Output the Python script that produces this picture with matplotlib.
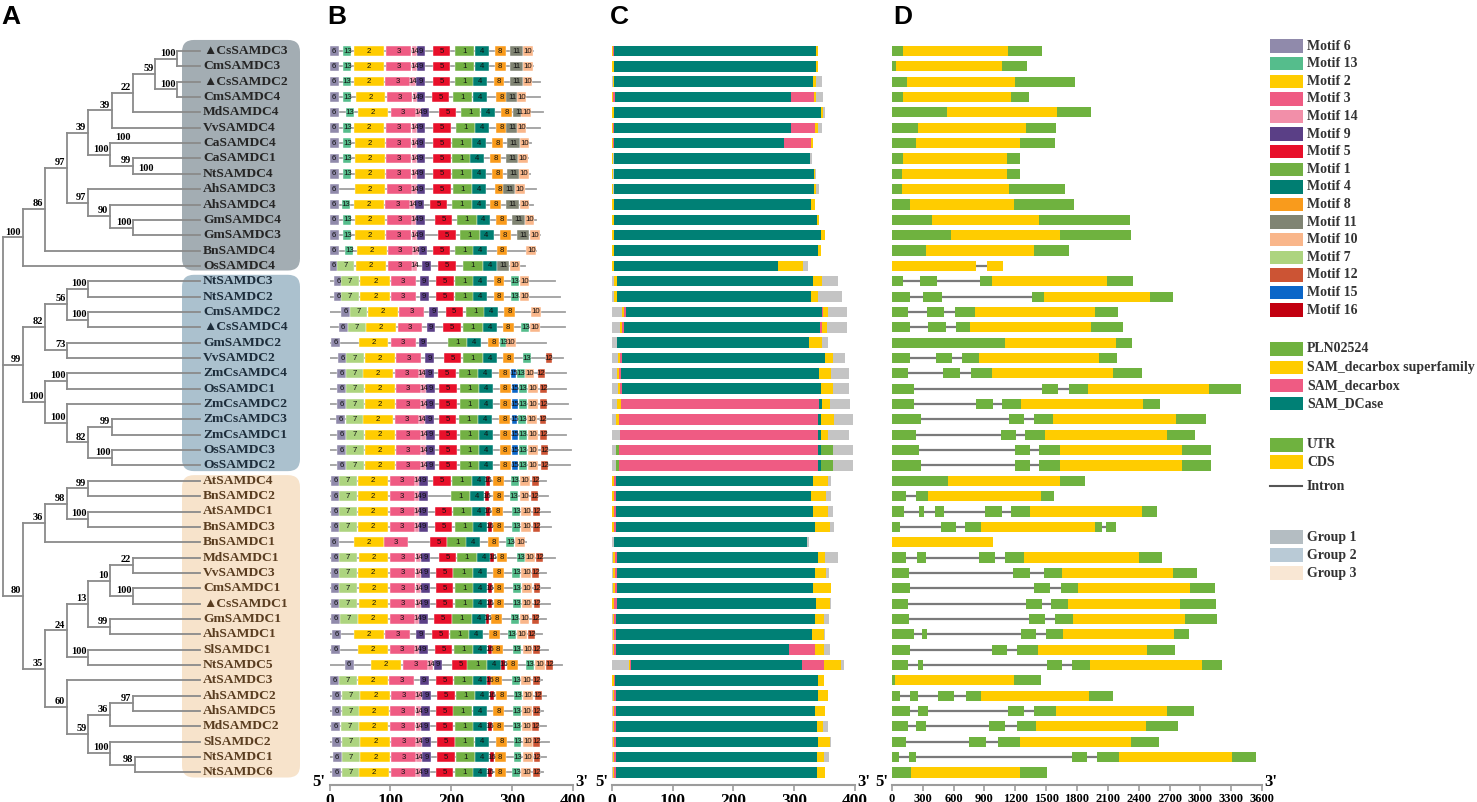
import matplotlib
matplotlib.use('Agg')
import matplotlib.pyplot as plt
from matplotlib.patches import FancyBboxPatch, Rectangle
from matplotlib.transforms import Bbox, TransformedBbox

W, H = 1477, 802
SERIF = ['Liberation Serif', 'DejaVu Serif']
SANS = ['Liberation Sans', 'DejaVu Sans']

# ---------------- tree (support, node x, children) ----------------
group1 = (100, 22.7, [
    (86, 45, [
        (97, 67, [
            (39, 88, [
                (39, 112, [
                    (22, 133, [
                        (59, 155, [
                            (100, 177, ['▲CsSAMDC3', 'CmSAMDC3']),
                            (100, 177, ['▲CsSAMDC2', 'CmSAMDC4'])]),
                        'MdSAMDC4']),
                    'VvSAMDC4']),
                (100, 110, ['CaSAMDC4', (99, 133, ['CaSAMDC1', 'NtSAMDC4'])])]),
            (97, 88, ['AhSAMDC3', (90, 110, ['AhSAMDC4', (100, 133, ['GmSAMDC4', 'GmSAMDC3'])])])]),
        'BnSAMDC4']),
    'OsSAMDC4'])

group2 = (99, 22.7, [
    (82, 45, [
        (56, 67, [(100, 88, ['NtSAMDC3', 'NtSAMDC2']),
                  (100, 88, ['CmSAMDC2', '▲CsSAMDC4'])]),
        (73, 67, ['GmSAMDC2', 'VvSAMDC2'])]),
    (100, 45, [
        (100, 67, ['ZmCsAMDC4', 'OsSAMDC1']),
        (100, 67, ['ZmCsAMDC2',
                   (82, 88, [(99, 112, ['ZmCsAMDC3', 'ZmCsAMDC1']),
                             (100, 112, ['OsSAMDC3', 'OsSAMDC2'])])])])])

group3 = (80, 22.7, [
    (36, 45, [
        (98, 67, [(99, 88, ['AtSAMDC4', 'BnSAMDC2']),
                  (100, 88, ['AtSAMDC1', 'BnSAMDC3'])]),
        'BnSAMDC1']),
    (35, 45, [
        (24, 67, [
            (13, 88, [
                (10, 110, [(22, 133, ['MdSAMDC1', 'VvSAMDC3']),
                           (100, 133, ['CmSAMDC1', '▲CsSAMDC1'])]),
                (99, 110, ['GmSAMDC1', 'AhSAMDC1'])]),
            (100, 88, ['SlSAMDC1', 'NtSAMDC5'])]),
        (60, 67, [
            'AtSAMDC3',
            (59, 88, [
                (36, 110, [(97, 133, ['AhSAMDC2', 'AhSAMDC5']), 'MdSAMDC2']),
                (100, 110, ['SlSAMDC2', (98, 135, ['NtSAMDC1', 'NtSAMDC6'])])])])])])

tree_root = (None, 3, [group1, group2, group3])
leaf_support = {'CaSAMDC4': 100, 'NtSAMDC4': 100}   # values sitting on leaf branches

# ---------------- B: MEME motifs (motif, start) per gene, protein length ----------------
motif_width = {6: 15, 13: 13, 2: 49, 3: 41, 14: 9, 9: 14, 5: 29, 1: 32, 4: 23,
               8: 18, 11: 21, 10: 16, 7: 29, 12: 11, 15: 9, 16: 6}
motif_rows = [
    [(6, 0), (13, 23), (2, 41), (3, 93), (14, 135), (9, 144), (5, 170), (1, 206), (4, 239), (8, 272), (11, 297), (10, 319)],
    [(6, 0), (13, 23), (2, 41), (3, 93), (14, 135), (9, 144), (5, 170), (1, 206), (4, 239), (8, 272), (11, 297), (10, 319)],
    [(6, 0), (13, 22), (2, 40), (3, 92), (14, 133), (9, 143), (5, 170), (1, 206), (4, 237), (8, 270), (11, 297), (10, 318)],
    [(6, 0), (13, 23), (2, 43), (3, 95), (14, 137), (9, 144), (5, 168), (1, 203), (4, 236), (8, 274), (11, 291), (10, 308)],
    [(6, 0), (13, 27), (2, 47), (3, 101), (14, 142), (9, 150), (5, 180), (1, 216), (4, 249), (8, 283), (11, 302), (10, 316)],
    [(6, 0), (13, 23), (2, 41), (3, 93), (14, 135), (9, 144), (5, 171), (1, 208), (4, 239), (8, 274), (11, 291), (10, 308)],
    [(6, 0), (13, 23), (2, 42), (3, 93), (14, 135), (9, 144), (5, 171), (1, 202), (4, 234), (8, 268), (11, 292), (10, 313)],
    [(6, 0), (13, 23), (2, 42), (3, 93), (14, 135), (9, 144), (5, 171), (1, 202), (4, 232), (8, 264), (11, 290), (10, 310)],
    [(6, 0), (13, 23), (2, 42), (3, 93), (14, 135), (9, 144), (5, 171), (1, 202), (4, 234), (8, 268), (11, 292), (10, 312)],
    [(6, 0), (2, 42), (3, 95), (14, 136), (9, 144), (5, 171), (1, 203), (4, 235), (8, 272), (11, 285), (10, 305)],
    [(6, 0), (13, 20), (2, 40), (3, 92), (14, 132), (9, 141), (5, 165), (1, 202), (4, 234), (8, 265), (11, 291), (10, 313)],
    [(6, 0), (13, 23), (2, 42), (3, 95), (14, 135), (9, 143), (5, 173), (1, 210), (4, 242), (8, 274), (11, 301), (10, 321)],
    [(6, 0), (13, 23), (2, 42), (3, 93), (14, 135), (9, 144), (5, 179), (1, 215), (4, 247), (8, 280), (11, 308), (10, 330)],
    [(6, 0), (13, 26), (2, 45), (3, 96), (14, 138), (9, 147), (5, 170), (1, 206), (4, 237), (8, 275), (10, 324)],
    [(6, 0), (7, 12), (2, 44), (3, 96), (14, 135), (9, 153), (5, 179), (1, 220), (4, 253), (11, 275), (10, 297)],
    [(6, 8), (7, 19), (2, 51), (3, 101), (9, 149), (5, 176), (1, 206), (4, 236), (8, 270), (13, 299), (10, 313)],
    [(6, 8), (7, 19), (2, 51), (3, 101), (9, 149), (5, 176), (1, 206), (4, 236), (8, 270), (13, 299), (10, 313)],
    [(6, 19), (7, 33), (2, 63), (3, 115), (9, 164), (5, 191), (1, 224), (4, 255), (8, 288), (10, 332)],
    [(6, 15), (7, 31), (2, 60), (3, 112), (9, 160), (5, 187), (1, 220), (4, 252), (8, 285), (13, 316), (10, 330)],
    [(6, 3), (2, 48), (3, 101), (9, 147), (1, 195), (4, 227), (8, 261), (13, 280), (10, 291)],
    [(6, 14), (7, 27), (2, 59), (3, 110), (9, 158), (5, 188), (1, 220), (4, 253), (8, 286), (13, 318), (12, 356)],
    [(6, 12), (7, 27), (2, 55), (3, 107), (14, 148), (9, 158), (5, 179), (1, 213), (4, 245), (8, 279), (15, 298), (13, 308), (10, 321), (12, 343)],
    [(6, 12), (7, 27), (2, 58), (3, 109), (14, 151), (9, 159), (5, 181), (1, 214), (4, 246), (8, 280), (15, 301), (13, 312), (10, 327), (12, 347)],
    [(6, 12), (7, 27), (2, 58), (3, 109), (14, 151), (9, 159), (5, 181), (1, 214), (4, 246), (8, 280), (15, 301), (13, 312), (10, 327), (12, 347)],
    [(6, 11), (7, 27), (2, 55), (3, 107), (14, 148), (9, 158), (5, 180), (1, 213), (4, 245), (8, 279), (15, 300), (13, 311), (10, 325), (12, 346)],
    [(6, 12), (7, 27), (2, 58), (3, 109), (14, 151), (9, 159), (5, 181), (1, 214), (4, 246), (8, 280), (15, 301), (13, 312), (10, 327), (12, 347)],
    [(6, 12), (7, 27), (2, 58), (3, 109), (14, 151), (9, 159), (5, 181), (1, 214), (4, 246), (8, 280), (15, 301), (13, 312), (10, 327), (12, 348)],
    [(6, 12), (7, 27), (2, 58), (3, 109), (14, 151), (9, 159), (5, 181), (1, 214), (4, 246), (8, 280), (15, 301), (13, 312), (10, 327), (12, 348)],
    [(6, 2), (7, 16), (2, 47), (3, 99), (14, 140), (9, 148), (5, 171), (1, 202), (4, 235), (16, 258), (8, 269), (13, 299), (10, 314), (12, 334)],
    [(6, 2), (7, 16), (2, 47), (3, 99), (14, 140), (9, 148), (1, 200), (4, 232), (16, 256), (8, 269), (13, 297), (10, 313), (12, 332)],
    [(6, 2), (7, 16), (2, 47), (3, 99), (14, 140), (9, 148), (5, 173), (1, 203), (4, 235), (16, 258), (8, 268), (13, 301), (10, 316), (12, 335)],
    [(6, 2), (7, 16), (2, 47), (3, 99), (14, 140), (9, 148), (5, 173), (1, 206), (4, 236), (16, 261), (8, 269), (13, 301), (10, 316), (12, 335)],
    [(6, 0), (2, 40), (3, 89), (5, 165), (1, 194), (4, 225), (8, 261), (13, 291), (10, 306)],
    [(6, 2), (7, 16), (2, 48), (3, 100), (14, 142), (9, 151), (5, 180), (1, 210), (4, 243), (16, 265), (8, 275), (13, 308), (10, 322), (12, 340)],
    [(6, 2), (7, 16), (2, 47), (3, 100), (14, 142), (9, 151), (5, 175), (1, 204), (4, 237), (8, 269), (13, 301), (10, 316), (12, 334)],
    [(6, 2), (7, 16), (2, 48), (3, 100), (14, 142), (9, 151), (5, 175), (1, 206), (4, 237), (16, 261), (8, 270), (13, 302), (10, 317), (12, 336)],
    [(6, 2), (7, 16), (2, 48), (3, 100), (14, 142), (9, 151), (5, 175), (1, 206), (4, 237), (16, 261), (8, 270), (13, 302), (10, 317), (12, 336)],
    [(6, 2), (7, 18), (2, 47), (3, 99), (14, 140), (9, 148), (5, 172), (1, 202), (4, 235), (16, 257), (8, 266), (13, 299), (10, 313), (12, 334)],
    [(6, 4), (2, 41), (3, 92), (9, 143), (5, 168), (1, 198), (4, 230), (8, 263), (13, 294), (10, 309), (12, 327)],
    [(6, 3), (2, 47), (3, 99), (14, 140), (9, 148), (5, 173), (1, 205), (4, 236), (16, 261), (8, 268), (13, 302), (10, 318), (12, 335)],
    [(6, 25), (2, 69), (3, 121), (14, 162), (9, 172), (5, 202), (1, 227), (4, 259), (16, 283), (8, 293), (13, 323), (10, 338), (12, 357)],
    [(6, 1), (7, 16), (2, 47), (3, 98), (9, 149), (5, 175), (1, 205), (4, 237), (16, 260), (8, 266), (13, 301), (10, 316), (12, 335)],
    [(6, 4), (7, 21), (2, 51), (3, 102), (14, 143), (9, 153), (5, 177), (1, 208), (4, 239), (16, 264), (8, 274), (13, 304), (10, 319), (12, 338)],
    [(6, 4), (7, 21), (2, 49), (3, 100), (14, 142), (9, 151), (5, 176), (1, 203), (4, 236), (8, 269), (13, 302), (10, 317), (12, 335)],
    [(6, 3), (7, 19), (2, 48), (3, 100), (14, 142), (9, 151), (5, 175), (1, 206), (4, 237), (16, 261), (8, 269), (13, 302), (10, 317), (12, 334)],
    [(6, 4), (7, 21), (2, 51), (3, 102), (14, 143), (9, 153), (5, 177), (1, 206), (4, 239), (8, 274), (13, 303), (10, 319), (12, 335)],
    [(6, 5), (7, 21), (2, 51), (3, 102), (14, 143), (9, 153), (5, 177), (1, 208), (4, 239), (16, 264), (8, 272), (13, 303), (10, 319), (12, 336)],
    [(6, 4), (7, 21), (2, 49), (3, 101), (14, 142), (9, 151), (5, 175), (1, 206), (4, 237), (16, 261), (8, 272), (13, 301), (10, 316), (12, 335)],
]
prot_len = [335, 335, 346, 346, 352, 346, 332, 327, 330, 340, 335, 340, 346, 340, 321,
            371, 379, 387, 387, 357, 385, 390, 390, 393, 398, 390, 397, 396,
            357, 360, 363, 365, 323, 371, 357, 363, 363, 357, 349, 360, 382, 349,
            357, 351, 356, 362, 357, 352]

# ---------------- C: conserved domains (domain, start, end) ----------------
# D = SAM_DCase, B = SAM_decarbox, S = SAM_decarbox superfamily, P = PLN02524
domain_len = [339, 339, 346, 348, 352, 347, 332, 330, 336, 342, 335, 341, 351, 345, 323,
              372, 380, 387, 387, 356, 385, 391, 391, 393, 398, 391, 397, 397,
              361, 361, 364, 366, 325, 372, 358, 361, 362, 358, 352, 360, 382, 350,
              356, 352, 356, 362, 358, 352]
domain_rows = [
    [('S', 0, 2), ('B', 2, 4), ('D', 4, 337), ('S', 337, 339)],
    [('S', 0, 3), ('D', 4, 337), ('S', 337, 339)],
    [('S', 1, 4), ('D', 4, 332), ('S', 332, 337)],
    [('S', 0, 2), ('B', 2, 5), ('D', 5, 295), ('B', 295, 333), ('S', 333, 337)],
    [('S', 0, 3), ('D', 3, 345), ('S', 345, 348)],
    [('S', 0, 2), ('B', 2, 4), ('D', 4, 296), ('B', 296, 335), ('S', 335, 339)],
    [('S', 0, 2), ('B', 2, 4), ('D', 4, 283), ('B', 283, 328), ('S', 328, 331)],
    [('S', 0, 2), ('D', 3, 327)],
    [('S', 0, 2), ('D', 3, 333), ('S', 333, 335)],
    [('S', 0, 2), ('D', 3, 333), ('S', 333, 337)],
    [('S', 0, 3), ('D', 4, 328), ('S', 328, 335)],
    [('S', 0, 3), ('D', 4, 338), ('S', 338, 341)],
    [('S', 0, 3), ('D', 4, 344), ('S', 344, 351)],
    [('S', 0, 3), ('D', 4, 340), ('S', 340, 345)],
    [('S', 0, 3), ('D', 4, 274), ('S', 274, 315)],
    [('S', 3, 9), ('D', 9, 332), ('S', 332, 346)],
    [('S', 3, 9), ('D', 9, 328), ('S', 328, 340)],
    [('S', 16, 20), ('B', 20, 23), ('D', 23, 346), ('B', 346, 348), ('S', 348, 356)],
    [('S', 13, 16), ('B', 16, 20), ('D', 20, 343), ('B', 343, 346), ('S', 346, 355)],
    [('D', 8, 325), ('S', 325, 346)],
    [('S', 10, 14), ('B', 14, 17), ('D', 17, 352), ('S', 352, 365)],
    [('S', 8, 12), ('B', 12, 15), ('D', 15, 342), ('S', 342, 362)],
    [('S', 10, 13), ('B', 13, 16), ('D', 16, 344), ('S', 344, 365)],
    [('S', 9, 15), ('B', 15, 342), ('D', 342, 346), ('S', 346, 359)],
    [('S', 7, 12), ('B', 12, 339), ('D', 339, 344), ('S', 344, 366)],
    [('B', 13, 339), ('D', 339, 344), ('S', 344, 356)],
    [('P', 7, 12), ('B', 12, 339), ('D', 339, 344), ('P', 344, 365)],
    [('P', 7, 12), ('B', 12, 339), ('D', 339, 344), ('P', 344, 365)],
    [('S', 0, 3), ('B', 3, 6), ('D', 6, 331), ('S', 331, 356)],
    [('S', 0, 3), ('B', 3, 6), ('D', 6, 329), ('S', 329, 353)],
    [('S', 0, 3), ('B', 3, 6), ('D', 6, 332), ('S', 332, 357)],
    [('S', 0, 3), ('B', 3, 6), ('D', 6, 335), ('S', 335, 360)],
    [('D', 4, 321)],
    [('S', 2, 5), ('B', 5, 9), ('D', 9, 340), ('S', 340, 352)],
    [('S', 1, 5), ('B', 5, 8), ('D', 8, 335), ('S', 335, 353)],
    [('S', 1, 5), ('B', 5, 8), ('D', 8, 331), ('S', 331, 361)],
    [('S', 0, 3), ('B', 3, 8), ('D', 8, 337), ('S', 337, 360)],
    [('S', 1, 4), ('B', 4, 7), ('D', 7, 335), ('S', 335, 350)],
    [('S', 1, 4), ('B', 4, 7), ('D', 7, 330), ('S', 330, 350)],
    [('S', 1, 4), ('B', 4, 7), ('D', 7, 292), ('B', 292, 335), ('S', 335, 350)],
    [('S', 28, 30), ('B', 30, 32), ('D', 32, 313), ('B', 313, 350), ('S', 350, 378)],
    [('S', 0, 3), ('B', 3, 5), ('D', 5, 340), ('S', 340, 350)],
    [('S', 1, 4), ('B', 4, 7), ('D', 7, 340), ('S', 340, 356)],
    [('S', 1, 4), ('B', 4, 7), ('D', 7, 335), ('S', 335, 352)],
    [('S', 1, 4), ('B', 4, 7), ('D', 7, 338), ('S', 338, 348)],
    [('S', 1, 4), ('B', 4, 7), ('D', 7, 340), ('S', 340, 360)],
    [('S', 1, 4), ('B', 4, 7), ('D', 7, 338), ('S', 338, 350)],
    [('S', 1, 4), ('B', 4, 7), ('D', 7, 338), ('S', 338, 352)],
]

# ---------------- D: gene structure (U = UTR, C = CDS, start, end) ----------------
gene_rows = [
    [('U', 0, 104), ('C', 104, 1131), ('U', 1131, 1464)],
    [('U', 0, 39), ('C', 39, 1066), ('U', 1066, 1315)],
    [('U', 0, 149), ('C', 149, 1196), ('U', 1196, 1779)],
    [('U', 0, 104), ('C', 104, 1157), ('U', 1157, 1335)],
    [('U', 0, 538), ('C', 538, 1610), ('U', 1610, 1934)],
    [('U', 0, 256), ('C', 256, 1302), ('U', 1302, 1594)],
    [('U', 0, 233), ('C', 233, 1244), ('U', 1244, 1588)],
    [('U', 0, 104), ('C', 104, 1115), ('U', 1115, 1244)],
    [('U', 0, 100), ('C', 100, 1115), ('U', 1115, 1244)],
    [('U', 0, 100), ('C', 100, 1137), ('U', 1137, 1688)],
    [('U', 0, 175), ('C', 175, 1189), ('U', 1189, 1766)],
    [('U', 0, 386), ('C', 386, 1429), ('U', 1429, 2313)],
    [('U', 0, 573), ('C', 573, 1633), ('U', 1633, 2323)],
    [('U', 0, 334), ('C', 334, 1377), ('U', 1377, 1720)],
    [('C', 0, 820), ('C', 923, 1079)],
    [('U', 0, 104), ('U', 275, 437), ('U', 859, 975), ('C', 975, 2096), ('U', 2096, 2343)],
    [('U', 0, 172), ('U', 301, 486), ('U', 1364, 1481), ('C', 1481, 2511), ('U', 2511, 2731)],
    [('U', 0, 156), ('U', 340, 509), ('U', 609, 810), ('C', 810, 1976), ('U', 1976, 2197)],
    [('U', 0, 178), ('U', 347, 528), ('U', 625, 761), ('C', 761, 1934), ('U', 1934, 2245)],
    [('U', 0, 1102), ('C', 1102, 2181), ('U', 2181, 2333)],
    [('U', 0, 172), ('U', 431, 583), ('U', 680, 842), ('C', 842, 2012), ('U', 2012, 2190)],
    [('U', 0, 152), ('U', 496, 664), ('U', 771, 975), ('C', 975, 2155), ('U', 2155, 2433)],
    [('U', 0, 211), ('U', 1458, 1617), ('U', 1720, 1905), ('C', 1905, 3088), ('U', 3088, 3399)],
    [('U', 0, 217), ('U', 820, 978), ('U', 1069, 1251), ('C', 1251, 2440), ('U', 2440, 2611)],
    [('U', 0, 285), ('U', 1134, 1283), ('U', 1377, 1565), ('C', 1565, 2764), ('U', 2764, 3055)],
    [('U', 0, 233), ('U', 1056, 1202), ('U', 1296, 1490), ('C', 1490, 2674), ('U', 2674, 2945)],
    [('U', 0, 259), ('U', 1199, 1345), ('U', 1429, 1630), ('C', 1630, 2825), ('U', 2825, 3107)],
    [('U', 0, 285), ('U', 1199, 1345), ('U', 1429, 1630), ('C', 1630, 2825), ('U', 2825, 3107)],
    [('U', 0, 548), ('C', 548, 1636), ('U', 1636, 1879)],
    [('U', 0, 139), ('U', 237, 353), ('C', 353, 1445), ('U', 1445, 1581)],
    [('U', 0, 117), ('U', 259, 314), ('U', 415, 509), ('U', 907, 1069), ('U', 1160, 1338), ('C', 1338, 2436), ('U', 2436, 2579)],
    [('U', 0, 75), ('U', 473, 625), ('U', 706, 865), ('C', 865, 1973), ('U', 1973, 2048), ('U', 2080, 2177)],
    [('C', 0, 982)],
    [('U', 0, 133), ('U', 243, 327), ('U', 846, 1004), ('U', 1095, 1286), ('C', 1286, 2407), ('U', 2407, 2628)],
    [('U', 0, 162), ('U', 1179, 1345), ('U', 1481, 1652), ('C', 1652, 2731), ('U', 2731, 2971)],
    [('U', 0, 172), ('U', 1384, 1542), ('U', 1646, 1805), ('C', 1805, 2900), ('U', 2900, 3143)],
    [('U', 0, 152), ('U', 1299, 1458), ('U', 1545, 1711), ('C', 1711, 2803), ('U', 2803, 3153)],
    [('U', 0, 165), ('U', 1330, 1490), ('U', 1590, 1760), ('C', 1760, 2850), ('U', 2850, 3160)],
    [('U', 0, 211), ('U', 295, 343), ('U', 1251, 1400), ('U', 1497, 1665), ('C', 1665, 2744), ('U', 2744, 2887)],
    [('U', 0, 172), ('U', 969, 1118), ('U', 1218, 1422), ('C', 1422, 2482), ('U', 2482, 2757)],
    [('U', 0, 152), ('U', 249, 305), ('U', 1507, 1656), ('U', 1756, 1928), ('C', 1928, 3020), ('U', 3020, 3211)],
    [('U', 0, 32), ('C', 32, 1183), ('U', 1183, 1452)],
    [('U', 0, 81), ('U', 178, 249), ('U', 447, 603), ('U', 716, 865), ('C', 865, 1912), ('U', 1912, 2151)],
    [('U', 0, 172), ('U', 256, 353), ('U', 1124, 1283), ('U', 1380, 1591), ('C', 1591, 2674), ('U', 2674, 2939)],
    [('U', 0, 152), ('U', 230, 327), ('U', 946, 1098), ('U', 1218, 1403), ('C', 1403, 2472), ('U', 2472, 2783)],
    [('U', 0, 136), ('U', 752, 914), ('U', 1034, 1244), ('C', 1244, 2326), ('U', 2326, 2598)],
    [('U', 0, 71), ('U', 162, 237), ('U', 1750, 1902), ('U', 1999, 2213), ('C', 2213, 3311), ('U', 3311, 3538)],
    [('U', 0, 185), ('C', 185, 1247), ('U', 1247, 1507)],
]

# ---------------- colours ----------------
motif_color = {6: '#908aab', 13: '#55bd8c', 2: '#ffcc00', 3: '#ef5b83', 14: '#f28fa9',
               9: '#5a3f86', 5: '#e8102a', 1: '#72b043', 4: '#007e72', 8: '#f99b1c',
               11: '#808473', 10: '#f9b68a', 7: '#add47f', 12: '#cc5434', 15: '#0b66c8',
               16: '#c20010'}
domain_color = {'P': '#70b23f', 'S': '#ffcc00', 'B': '#ef5b83', 'D': '#008075'}
gene_color = {'U': '#6fb23f', 'C': '#ffcc00'}
box_color = ['#a3adb3', '#abc1ce', '#f7e3cb']
legend_group_color = ['#b4bdc2', '#b9cad6', '#f9e7d4']
leaf_text_color = ['#262626', '#1d2d3b', '#5a3d20']
LINE = '#8a8a8a'

# ---------------- layout ----------------
ROW0, ROW_DY = 51, 15.35
AX_TOP, AX_BOTTOM = 30, 785
YLIM = ((AX_BOTTOM - ROW0) / ROW_DY, (AX_TOP - ROW0) / ROW_DY)

fig = plt.figure(figsize=(W / 100, H / 100), dpi=100)


def px_axes(x0, x1, y0=AX_TOP, y1=AX_BOTTOM):
    return fig.add_axes([x0 / W, 1 - y1 / H, (x1 - x0) / W, (y1 - y0) / H])


# leaf order and groups
leaf_order = []
leaf_group = {}


def collect(node, g):
    if isinstance(node, str):
        leaf_order.append(node)
        leaf_group[node] = g
    else:
        for c in node[2]:
            collect(c, g)


for gi, g in enumerate([group1, group2, group3]):
    collect(g, gi)
row_of = {name: i for i, name in enumerate(leaf_order)}


def node_y(node):
    if isinstance(node, str):
        return row_of[node]
    ys = [node_y(c) for c in node[2]]
    return (ys[0] + ys[-1]) / 2


# ---------------- A: tree ----------------
axA = px_axes(0, 330)
axA.set_xlim(0, 330)
axA.set_ylim(*YLIM)
axA.axis('off')

LEAF_X = 200
box_pad = [(0.72, 0.3), (0.42, 0.37), (0.37, 0.33)]
for gi in range(3):
    rows = [row_of[n] for n in leaf_order if leaf_group[n] == gi]
    top = min(rows) - box_pad[gi][0]
    bot = max(rows) + box_pad[gi][1]
    axA.add_patch(FancyBboxPatch((182, top), 118, bot - top,
                                 boxstyle='round,pad=0,rounding_size=12',
                                 mutation_aspect=1 / ROW_DY, facecolor=box_color[gi],
                                 edgecolor='none', zorder=0, clip_on=False))


def draw(node):
    sup, x, kids = node
    ys = [node_y(k) for k in kids]
    axA.plot([x, x], [ys[0], ys[-1]], color=LINE, lw=1.3, solid_capstyle='projecting', zorder=2)
    for k, yk in zip(kids, ys):
        if isinstance(k, str):
            axA.plot([x, LEAF_X], [yk, yk], color=LINE, lw=1.3, zorder=2)
            if k in leaf_support:
                axA.annotate(str(leaf_support[k]), xy=(x, yk), xytext=(4, 0.6),
                             textcoords='offset points', ha='left', va='bottom',
                             fontsize=7.5, fontweight='bold', family=SERIF)
        else:
            axA.plot([x, k[1]], [yk, yk], color=LINE, lw=1.3, zorder=2)
            if k[0] is not None:
                axA.annotate(str(k[0]), xy=(k[1], yk), xytext=(-1.2, 0.6),
                             textcoords='offset points', ha='right', va='bottom',
                             fontsize=7.5, fontweight='bold', family=SERIF)
            draw(k)


draw(tree_root)

for name in leaf_order:
    axA.text(LEAF_X + 3, row_of[name], name, ha='left', va='center', fontsize=9.7,
             fontweight='bold', family=SERIF, color=leaf_text_color[leaf_group[name]], zorder=3)


def scale_axis(ax, xmax, ticks, fs):
    ax.set_xlim(0, xmax)
    ax.set_ylim(*YLIM)
    for s in ['top', 'right', 'left']:
        ax.spines[s].set_visible(False)
    ax.spines['bottom'].set_color('#9c9c9c')
    ax.spines['bottom'].set_linewidth(1.5)
    ax.set_yticks([])
    ax.set_xticks(ticks, [str(t) for t in ticks], fontsize=fs, fontweight='bold', family=SERIF)
    ax.tick_params(axis='x', length=4, width=1.2, color='#9c9c9c', pad=1.5)
    ax.patch.set_alpha(0)
    ax.annotate("5'", xy=(0, 0), xycoords='axes fraction', xytext=(-3, 2), textcoords='offset points',
                ha='right', va='center', fontsize=12, fontweight='bold', family=SERIF)
    ax.annotate("3'", xy=(1, 0), xycoords='axes fraction', xytext=(2, 2), textcoords='offset points',
                ha='left', va='center', fontsize=12, fontweight='bold', family=SERIF)


# ---------------- B: motifs ----------------
axB = px_axes(329.5, 572.5)
scale_axis(axB, 400, [0, 100, 200, 300, 400], 12.5)
BH = 0.62
for i, (motifs, L) in enumerate(zip(motif_rows, prot_len)):
    axB.plot([0, L], [i, i], color='#a0a0a0', lw=1.3, zorder=1)
    for m, s in motifs:
        w = motif_width[m]
        axB.barh(i, w, left=s, height=BH, color=motif_color[m], edgecolor='white',
                 linewidth=0.3, zorder=2)
        t = axB.text(s + w / 2, i, str(m), ha='center', va='center', fontsize=5.6,
                     family=SANS, color='#111111', zorder=3)
        t.set_clip_box(TransformedBbox(Bbox.from_bounds(s, i - BH / 2, w, BH), axB.transData))

# ---------------- C: domains ----------------
axC = px_axes(612, 854.5)
scale_axis(axC, 400, [0, 100, 200, 300, 400], 12.5)
CH = 0.68
for i, (L, segs) in enumerate(zip(domain_len, domain_rows)):
    axC.barh(i, L, left=0, height=CH, color='#c4c4c4', edgecolor='none', zorder=1)
    for d, a, b in segs:
        axC.barh(i, b - a, left=a, height=CH, color=domain_color[d], edgecolor='none', zorder=2)

# ---------------- D: gene structure ----------------
axD = px_axes(892, 1262)
scale_axis(axD, 3600, list(range(0, 3601, 300)), 9)
DH = 0.66
for i, parts in enumerate(gene_rows):
    axD.hlines(i, parts[0][1], parts[-1][2], color='#7a7a7a', lw=1.6, zorder=1)
    for kind, a, b in parts:
        axD.barh(i, b - a, left=a, height=DH, color=gene_color[kind], edgecolor='none', zorder=2)

# ---------------- legend ----------------
axL = px_axes(1262, 1477, 0, 802)
axL.set_xlim(1262, 1477)
axL.set_ylim(802, 0)
axL.axis('off')

legend_motifs = [6, 13, 2, 3, 14, 9, 5, 1, 4, 8, 11, 10, 7, 12, 15, 16]
legend_domains = [('PLN02524', 'P'), ('SAM_decarbox superfamily', 'S'),
                  ('SAM_decarbox', 'B'), ('SAM_DCase', 'D')]
entries = []
for k, m in enumerate(legend_motifs):
    entries.append((46 + 17.6 * k, 'Motif ' + str(m), motif_color[m]))
for k, (lab, d) in enumerate(legend_domains):
    entries.append((349 + 18.2 * k, lab, domain_color[d]))
entries.append((445, 'UTR', gene_color['U']))
entries.append((462, 'CDS', gene_color['C']))
for k, lab in enumerate(['Group 1', 'Group 2', 'Group 3']):
    entries.append((537 + 18 * k, lab, legend_group_color[k]))

for y, lab, col in entries:
    axL.add_patch(Rectangle((1270, y - 6.7), 33, 13.4, facecolor=col, edgecolor='none'))
    axL.text(1307, y, lab, ha='left', va='center', fontsize=10, fontweight='bold',
             family=SERIF, color='#333333')
axL.plot([1270, 1302], [486, 486], color='#555555', lw=1.5)
axL.text(1307, 486, 'Intron', ha='left', va='center', fontsize=10, fontweight='bold',
         family=SERIF, color='#333333')

# panel letters
for lab, x in [('A', 1), ('B', 327), ('C', 610), ('D', 893)]:
    fig.text(x / W, 1 - 17 / H, lab, ha='left', va='center', fontsize=19,
             fontweight='bold', family=SANS)

fig.savefig('out.png', dpi=100)
